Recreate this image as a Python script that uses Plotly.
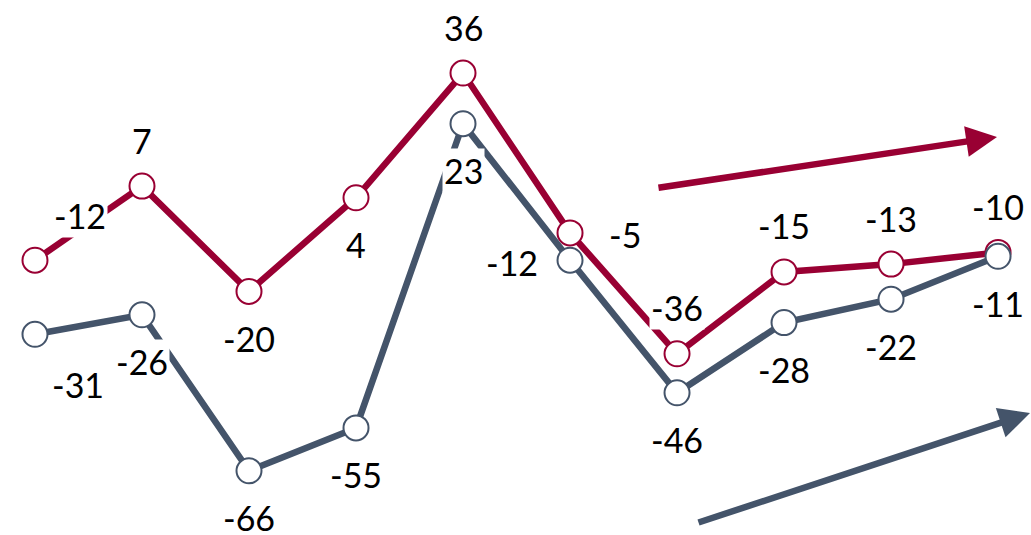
import plotly.graph_objects as go

# ---- data ----
periods = list(range(10))
red_values = [-12, 7, -20, 4, 36, -5, -36, -15, -13, -10]
blue_values = [-31, -26, -66, -55, 23, -12, -46, -28, -22, -11]

# label placement (style)
red_label_pos = ["upright", "up", "down", "down", "up", "right", "up", "up", "up", "up"]
blue_label_pos = ["downright", "down", "down", "down", "down", "left", "down", "down", "down", "down"]

RED = "#990033"
BLUE = "#44546A"
FONT = "Lato, 'Open Sans', sans-serif"

offsets = {
    "up": (0, 46),
    "down": (0, -47),
    "upright": (45, 45),
    "downright": (43, -50),
    "right": (55, -2),
    "left": (-58, -2),
}

fig = go.Figure()
for vals, col in [(red_values, RED), (blue_values, BLUE)]:
    fig.add_trace(go.Scatter(
        x=periods, y=vals, mode="lines+markers",
        line=dict(color=col, width=6.5),
        marker=dict(size=25, color="white", line=dict(color=col, width=2)),
        hoverinfo="skip", showlegend=False,
    ))

annotations = []
for vals, poss in [(red_values, red_label_pos), (blue_values, blue_label_pos)]:
    for xv, yv, p in zip(periods, vals, poss):
        dx, dy = offsets[p]
        annotations.append(dict(
            x=xv, y=yv, xref="x", yref="y", text=str(yv), showarrow=False,
            xshift=dx, yshift=dy, xanchor="center", yanchor="middle",
            bgcolor="white", borderpad=1,
            font=dict(family=FONT, size=34, color="black"),
        ))

# trend arrows (decorative)
annotations.append(dict(
    x=0.967, y=0.744, xref="paper", yref="paper", ax=-340, ay=51,
    axref="pixel", ayref="pixel", text="", showarrow=True,
    arrowhead=2, arrowsize=0.95, arrowwidth=6.5, arrowcolor=RED, standoff=0,
))
annotations.append(dict(
    x=1.0, y=0.228, xref="paper", yref="paper", ax=-334, ay=110,
    axref="pixel", ayref="pixel", text="", showarrow=True,
    arrowhead=2, arrowsize=0.95, arrowwidth=6.5, arrowcolor=BLUE, standoff=0,
))

fig.update_layout(
    width=1031, height=535,
    margin=dict(l=0, r=0, t=0, b=0),
    paper_bgcolor="white", plot_bgcolor="white",
    xaxis=dict(visible=False, range=[-0.327, 9.308]),
    yaxis=dict(visible=False, range=[-82.46, 54.72]),
    annotations=annotations,
)

fig.write_html("out.html")
